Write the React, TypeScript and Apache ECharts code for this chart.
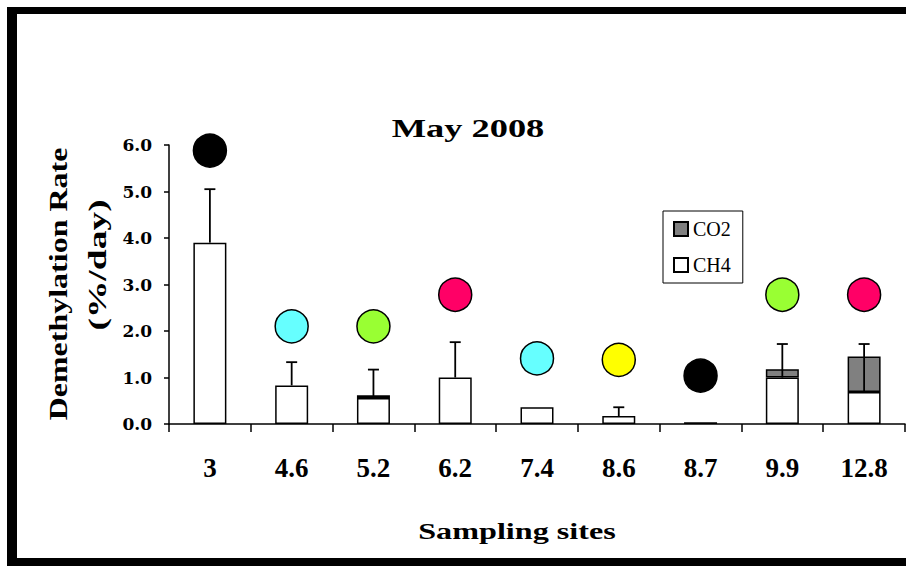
import React, { useEffect, useRef } from "react";
import * as echarts from "echarts";

const sites = ["3", "4.6", "5.2", "6.2", "7.4", "8.6", "8.7", "9.9", "12.8"];
const ch4 = [3.9, 0.83, 0.56, 1.0, 0.36, 0.17, 0.04, 1.0, 0.69];
const co2: (number | null)[] = [null, null, 0.06, null, null, null, null, 0.18, 0.76];
const errTop: (number | null)[] = [5.05, 1.33, 1.17, 1.76, null, 0.36, null, 1.72, 1.72];
const dotValues = [5.88, 2.1, 2.1, 2.78, 1.41, 1.38, 1.04, 2.78, 2.78];
const dotColors = ["#000000", "#66ffff", "#99ff33", "#ff0066", "#66ffff", "#ffff00", "#000000", "#99ff33", "#ff0066"];
const yTicks = [0, 1, 2, 3, 4, 5, 6];

export default function App() {
  const ref = useRef<HTMLDivElement>(null);
  useEffect(() => {
    if (!ref.current) return;
    const chart = echarts.init(ref.current, undefined, { renderer: "svg" });
    const errData = errTop
      .map((v, i) => (v == null ? null : [i, ch4[i], v]))
      .filter((d) => d != null) as number[][];
    const serif = "Liberation Serif";
    chart.setOption({
      animation: false,
      backgroundColor: "#ffffff",
      textStyle: { fontFamily: serif },
      grid: { left: 169, top: 145, width: 736, height: 279, containLabel: false },
      legend: {
        data: [
          { name: "CO2", icon: "rect" },
          { name: "CH4", icon: "rect" },
        ],
        orient: "vertical",
        left: 663,
        top: 211,
        itemWidth: 14,
        itemHeight: 14,
        itemGap: 16,
        padding: [8, 12, 8, 10],
        borderColor: "#000",
        borderWidth: 1,
        textStyle: { fontFamily: serif, fontSize: 20, fontWeight: "normal", color: "#000" },
      },
      xAxis: {
        type: "category",
        data: sites,
        axisLine: { lineStyle: { color: "#000", width: 1.5 } },
        axisTick: { show: true, alignWithLabel: false, length: 8, lineStyle: { color: "#000", width: 1.5 } },
        axisLabel: { margin: 30, fontFamily: serif, fontWeight: "bold", fontSize: 27, color: "#000" },
      },
      yAxis: {
        type: "value",
        min: yTicks[0],
        max: yTicks[yTicks.length - 1],
        interval: 1,
        axisLine: { show: true, lineStyle: { color: "#000", width: 1.5 } },
        axisTick: { show: true, length: 5, lineStyle: { color: "#000", width: 1.5 } },
        splitLine: { show: false },
        axisLabel: {
          margin: 17,
          fontFamily: "DejaVu Serif",
          fontWeight: "bold",
          fontSize: 17,
          color: "#000",
          formatter: (v: number) => v.toFixed(1),
        },
      },
      series: [
        {
          name: "CH4",
          type: "bar",
          stack: "rate",
          barWidth: 33,
          data: ch4,
          itemStyle: { color: "#ffffff", borderColor: "#000", borderWidth: 1.5 },
          z: 2,
        },
        {
          name: "CO2",
          type: "bar",
          stack: "rate",
          barWidth: 33,
          data: co2.map((v) => (v == null ? "-" : v)),
          itemStyle: { color: "#808080", borderColor: "#000", borderWidth: 1.5 },
          z: 2,
        },
        {
          name: "err",
          type: "custom",
          data: errData,
          encode: { x: 0, y: [1, 2] },
          z: 5,
          renderItem: (params: any, api: any) => {
            const base = api.coord([api.value(0), api.value(1)]);
            const top = api.coord([api.value(0), api.value(2)]);
            const st = { stroke: "#000", lineWidth: 1.8 };
            return {
              type: "group",
              children: [
                { type: "line", shape: { x1: base[0], y1: base[1], x2: base[0], y2: top[1] }, style: st },
                { type: "line", shape: { x1: base[0] - 5.5, y1: top[1], x2: base[0] + 5.5, y2: top[1] }, style: st },
              ],
            };
          },
        },
        {
          name: "dots",
          type: "scatter",
          symbol: "circle",
          symbolSize: 33,
          data: dotValues.map((v, i) => ({
            value: [i, v],
            itemStyle: { color: dotColors[i], borderColor: "#000", borderWidth: 1.5, opacity: 1 },
          })),
          itemStyle: { opacity: 1 },
          z: 6,
        },
      ],
      graphic: [
        { type: "rect", shape: { x: 7, y: 7, width: 899, height: 7 }, style: { fill: "#000" } },
        { type: "rect", shape: { x: 7, y: 7, width: 10, height: 559 }, style: { fill: "#000" } },
        { type: "rect", shape: { x: 7, y: 558, width: 899, height: 8 }, style: { fill: "#000" } },
        {
          type: "text",
          x: 468,
          y: 128,
          scaleX: 1.4,
          style: {
            text: "May 2008",
            fontFamily: serif,
            fontWeight: "bold",
            fontSize: 26,
            fill: "#000",
            align: "center",
            verticalAlign: "middle",
          },
        },
        {
          type: "text",
          x: 517,
          y: 531,
          scaleX: 1.4,
          style: {
            text: "Sampling sites",
            fontFamily: serif,
            fontWeight: "bold",
            fontSize: 23,
            fill: "#000",
            align: "center",
            verticalAlign: "middle",
          },
        },
        {
          type: "text",
          x: 58,
          y: 284,
          rotation: Math.PI / 2,
          scaleX: 1.28,
          style: {
            text: "Demethylation Rate",
            fontFamily: serif,
            fontWeight: "bold",
            fontSize: 25,
            fill: "#000",
            align: "center",
            verticalAlign: "middle",
          },
        },
        {
          type: "text",
          x: 98,
          y: 265,
          rotation: Math.PI / 2,
          scaleX: 1.5,
          style: {
            text: "(%/day)",
            fontFamily: serif,
            fontWeight: "bold",
            fontSize: 25,
            fill: "#000",
            align: "center",
            verticalAlign: "middle",
          },
        },
      ],
    });
    return () => chart.dispose();
  }, []);
  return <div ref={ref} style={{ position: "fixed", left: 0, top: 0, width: 906, height: 566 }} />;
}
